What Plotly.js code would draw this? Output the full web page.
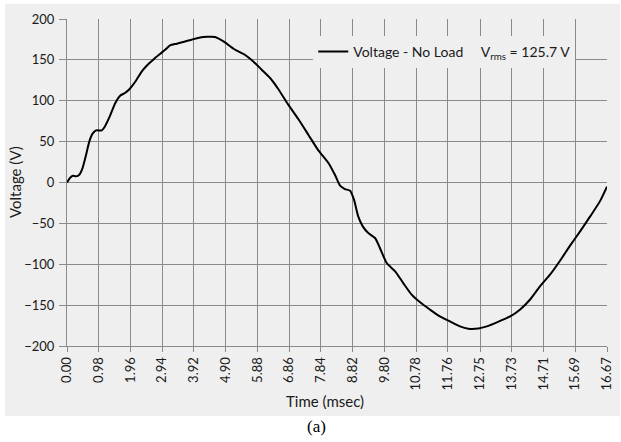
<!DOCTYPE html>
<html>
<head>
<meta charset="utf-8">
<script src="https://cdn.plot.ly/plotly-3.0.1.min.js"></script>
<style>html,body{margin:0;padding:0;background:#fff;}#chart{width:621px;height:442px;}</style>
</head>
<body>
<div id="chart"></div>
<script>
const timeMs = [0, 0.09, 0.18, 0.28, 0.38, 0.48, 0.59, 0.69, 0.79, 0.90, 1.07, 1.17, 1.33, 1.48, 1.64, 1.79, 1.94, 2.10, 2.31, 2.46, 2.66, 2.87, 3.03, 3.18, 3.39, 3.59, 3.85, 4.11, 4.57, 4.83, 5.19, 5.49, 5.75, 6.01, 6.27, 6.52, 6.83, 7.14, 7.45, 7.76, 8.07, 8.27, 8.43, 8.58, 8.74, 8.86, 8.99, 9.13, 9.30, 9.51, 9.66, 9.87, 10.13, 10.38, 10.64, 10.90, 11.21, 11.51, 11.82, 12.13, 12.39, 12.70, 12.96, 13.27, 13.68, 13.98, 14.29, 14.60, 14.91, 15.22, 15.53, 15.84, 16.15, 16.45, 16.67];
const voltage = [0, 5.5, 8.3, 7.5, 9.5, 17.7, 34, 50.3, 59.7, 63.7, 63.7, 68.6, 81.7, 96.4, 106.2, 109.5, 114.7, 122.9, 136, 142.9, 150.2, 157.2, 162.4, 167.7, 169.8, 171.9, 174.7, 177.5, 178, 172.6, 162.4, 156.3, 148.1, 138, 127.8, 114.4, 95.2, 77.7, 58.5, 39.3, 23.9, 9.5, -3.9, -8, -10, -21, -41.5, -53.7, -61.8, -67.9, -80.1, -98.5, -108.7, -123, -137.2, -146.6, -155.6, -163.8, -169.9, -176, -178.8, -178.5, -176, -171.1, -163.8, -155.6, -143.4, -127.1, -112.8, -95.7, -77.3, -59.8, -41.5, -23.1, -5];
const xTickVals = [0, 0.98, 1.96, 2.94, 3.92, 4.90, 5.88, 6.86, 7.84, 8.82, 9.80, 10.78, 11.76, 12.75, 13.73, 14.71, 15.69, 16.67];
const xTickText = ["0.00", "0.98", "1.96", "2.94", "3.92", "4.90", "5.88", "6.86", "7.84", "8.82", "9.80", "10.78", "11.76", "12.75", "13.73", "14.71", "15.69", "16.67"];
const yTickVals = [-200, -150, -100, -50, 0, 50, 100, 150, 200];
const seriesName = "Voltage - No Load\u00a0\u00a0\u00a0\u00a0\u00a0V<sub>rms</sub> = 125.7 V";

const grid = '#8a8a8a';
const bg = '#efefef';
const font = 'Lato, "Liberation Sans", sans-serif';

const trace = {
  x: timeMs, y: voltage, type: 'scatter', mode: 'lines',
  name: seriesName,
  line: {color: '#000', width: 2, shape: 'spline', smoothing: 0.6}
};

const white = {type: 'rect', xref: 'paper', yref: 'paper', layer: 'above', fillcolor: '#ffffff', line: {width: 0}};

const layout = {
  width: 621, height: 442,
  margin: {l: 67, r: 14, t: 19, b: 95.5},
  paper_bgcolor: bg,
  plot_bgcolor: bg,
  font: {family: font, size: 13, color: '#1a1a1a'},
  showlegend: true,
  legend: {
    x: 0.456, y: 0.948, xanchor: 'left', yanchor: 'top',
    bgcolor: bg, borderwidth: 0,
    font: {family: font, size: 14, color: '#1a1a1a'},
    itemwidth: 30
  },
  xaxis: {
    range: [0, 16.67],
    tickmode: 'array', tickvals: xTickVals, ticktext: xTickText,
    tickangle: -90,
    showgrid: true, gridcolor: grid, gridwidth: 1,
    showline: true, linecolor: grid, linewidth: 1,
    ticks: 'outside', ticklen: 5, tickcolor: grid,
    zeroline: false,
    tickfont: {family: font, size: 13, color: '#1a1a1a'},
    fixedrange: true
  },
  yaxis: {
    range: [-200, 200],
    tickmode: 'array', tickvals: yTickVals,
    showgrid: true, gridcolor: grid, gridwidth: 1,
    showline: true, linecolor: grid, linewidth: 1,
    ticks: 'outside', ticklen: 7, tickcolor: grid,
    ticklabelstandoff: 2,
    zeroline: false,
    tickfont: {family: font, size: 13, color: '#1a1a1a'},
    fixedrange: true
  },
  shapes: [
    Object.assign({}, white, {x0: -0.13, x1: -0.1148, y0: -0.4, y1: 1.2}),
    Object.assign({}, white, {x0: -0.13, x1: 1.04, y0: 1.0467, y1: 1.2}),
    Object.assign({}, white, {x0: 1.024, x1: 1.04, y0: -0.4, y1: 1.2}),
    Object.assign({}, white, {x0: -0.13, x1: 1.04, y0: -0.4, y1: -0.2139})
  ],
  annotations: [
    {text: 'Voltage (V)', xref: 'paper', yref: 'paper', x: -0.0972, y: 0.5,
     xanchor: 'center', yanchor: 'middle', textangle: -90, showarrow: false,
     font: {family: font, size: 15, color: '#1a1a1a'}},
    {text: 'Time (msec)', xref: 'paper', yref: 'paper', x: 0.478, y: -0.1681,
     xanchor: 'center', yanchor: 'middle', showarrow: false,
     font: {family: font, size: 15, color: '#1a1a1a'}},
    {text: '(a)', xref: 'paper', yref: 'paper', x: 0.4624, y: -0.2459,
     xanchor: 'center', yanchor: 'middle', showarrow: false,
     font: {family: '"Liberation Serif", "Times New Roman", serif', size: 17, color: '#000'}}
  ]
};

Plotly.newPlot('chart', [trace], layout, {displayModeBar: false, staticPlot: true});
</script>
</body>
</html>
